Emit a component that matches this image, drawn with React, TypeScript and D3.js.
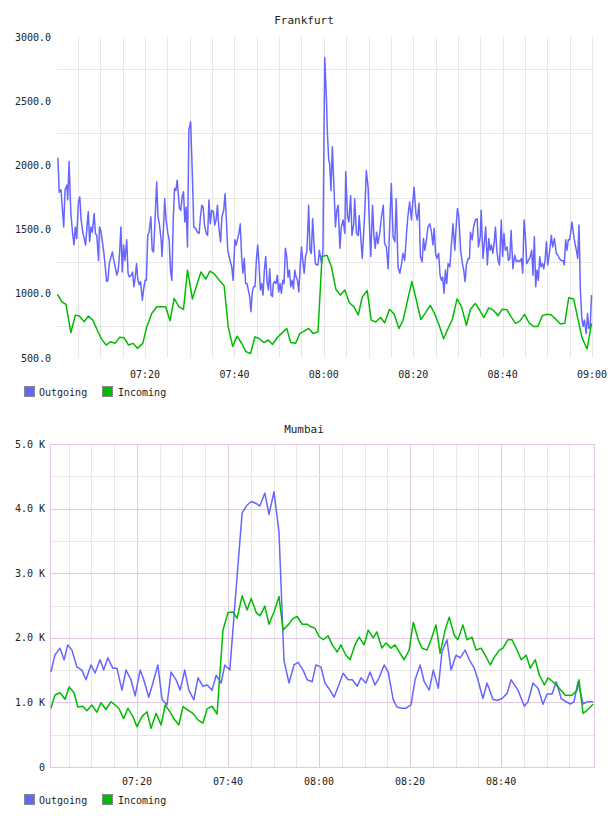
import React from "react";
import * as d3 from "d3";

// ---------- DATA (minutes after 07:00, value) ----------
const seriesNames = ["Outgoing", "Incoming"];
const seriesColors = ["#6666ff", "#00bb00"];

const frankfurtOutgoing: [number, number][] = [
[0.5,2060],[0.8,1790],[1.2,1810],[1.8,1520],[2.1,1810],[2.5,1845],[2.7,1730],[3.0,2030],[3.4,1625],[3.8,1470],[4.1,1380],[4.4,1520],[4.7,1430],[5.1,1715],[5.4,1755],[5.7,1575],[6.1,1470],[6.4,1430],[6.7,1380],[7.1,1560],[7.3,1640],[7.6,1405],[7.9,1520],[8.2,1480],[8.6,1625],[8.9,1470],[9.2,1455],[9.6,1260],[9.8,1520],[10.1,1495],[10.4,1420],[10.8,1315],[11.1,1210],[11.4,1095],[11.7,1105],[12.0,1235],[12.4,1290],[12.7,1325],[13.0,1260],[13.4,1195],[13.7,1145],[14.0,1185],[14.3,1315],[14.6,1520],[14.9,1170],[15.2,1380],[15.5,1260],[15.9,1420],[16.2,1160],[16.5,1130],[16.9,1145],[17.2,1170],[17.5,1055],[17.8,1130],[18.1,1235],[18.4,1105],[18.7,1070],[19.0,1095],[19.4,950],[19.7,1040],[20.0,1105],[20.3,1105],[20.6,1455],[20.9,1480],[21.3,1600],[21.6,1340],[21.9,1325],[22.2,1545],[22.6,1870],[22.9,1600],[23.2,1545],[23.6,1420],[23.8,1290],[24.1,1495],[24.4,1740],[24.7,1575],[25.1,1470],[25.4,1420],[25.7,1185],[26.0,1105],[26.3,1575],[26.6,1820],[26.9,1805],[27.2,1885],[27.4,1795],[27.7,1665],[28.0,1650],[28.3,1755],[28.6,1795],[28.9,1560],[29.2,1675],[29.5,1365],[29.8,2275],[30.2,2340],[30.6,1910],[30.9,1520],[31.3,1510],[31.7,1480],[32.1,1470],[32.4,1600],[32.7,1690],[33.0,1675],[33.3,1535],[33.7,1470],[34.0,1455],[34.3,1730],[34.6,1545],[34.9,1650],[35.3,1640],[35.6,1535],[35.9,1575],[36.2,1690],[36.5,1520],[36.9,1405],[37.2,1600],[37.6,1650],[37.9,1780],[38.2,1575],[38.5,1340],[38.8,1290],[39.1,1250],[39.4,1210],[39.7,1105],[40.1,1420],[40.4,1380],[40.7,1430],[41.0,1470],[41.3,1545],[41.6,1290],[41.9,1160],[42.2,1275],[42.5,1080],[42.8,1080],[43.1,1030],[43.4,980],[43.7,860],[44.0,1015],[44.3,1055],[44.6,1055],[44.9,1260],[45.2,1380],[45.5,1235],[45.8,1030],[46.1,1080],[46.4,990],[46.7,1185],[47.0,1290],[47.3,1095],[47.6,1030],[47.9,1195],[48.2,990],[48.5,980],[48.7,1080],[49.0,1095],[49.3,1080],[49.6,1145],[49.9,1015],[50.2,1080],[50.5,1005],[50.8,1105],[51.1,1080],[51.4,1355],[51.7,1290],[52.0,1130],[52.3,1185],[52.6,1055],[52.9,1105],[53.2,1040],[53.5,1185],[53.8,1130],[54.1,1105],[54.4,1015],[54.7,1210],[55.0,1365],[55.3,1260],[55.6,1160],[55.9,1290],[56.2,1330],[56.5,1575],[56.6,1690],[56.9,1340],[57.2,1315],[57.5,1585],[57.8,1390],[58.1,1235],[58.4,1225],[58.7,1225],[59.0,1340],[59.5,1235],[59.8,1340],[60.2,2840],[60.6,2505],[60.8,2250],[61.1,2040],[61.3,2015],[61.6,1805],[61.9,2145],[62.3,1805],[62.6,1520],[62.9,1650],[63.2,1690],[63.6,1355],[63.9,1520],[64.3,1575],[64.7,1470],[64.9,1950],[65.3,1600],[65.6,1560],[66.0,1765],[66.3,1455],[66.7,1545],[66.9,1740],[67.3,1470],[67.7,1455],[67.9,1610],[68.2,1470],[68.6,1275],[69.2,1665],[69.5,1960],[69.9,1830],[70.2,1545],[70.5,1290],[70.9,1690],[71.2,1455],[71.5,1355],[71.8,1480],[72.1,1390],[72.5,1470],[72.9,1600],[73.3,1690],[73.6,1390],[74.0,1365],[74.4,1195],[74.7,1495],[75.1,1860],[75.5,1445],[75.9,1405],[76.2,1740],[76.6,1210],[77.0,1160],[77.4,1235],[77.7,1315],[78.1,1260],[78.5,1470],[78.8,1600],[79.2,1715],[79.6,1575],[80.0,1755],[80.2,1830],[80.6,1625],[80.9,1575],[81.3,1705],[81.6,1290],[82.0,1250],[82.3,1430],[82.6,1340],[82.9,1405],[83.3,1520],[83.7,1545],[84.1,1480],[84.4,1380],[84.7,1510],[85.0,1315],[85.3,1275],[85.7,1315],[86.0,1145],[86.3,1105],[86.6,1130],[86.9,1005],[87.2,1185],[87.5,1080],[87.8,1235],[88.2,1210],[88.5,1365],[88.9,1545],[89.3,1340],[89.6,1520],[89.9,1665],[90.2,1600],[90.6,1340],[91.0,1235],[91.3,1185],[91.6,1095],[91.9,1225],[92.3,1275],[92.6,1275],[92.8,1480],[93.2,1420],[93.5,1520],[93.9,1575],[94.3,1585],[94.6,1365],[95.0,1445],[95.2,1650],[95.6,1275],[95.9,1390],[96.2,1520],[96.6,1225],[96.9,1430],[97.2,1340],[97.5,1380],[97.8,1315],[98.1,1390],[98.4,1520],[98.7,1340],[99.0,1260],[99.3,1225],[99.7,1575],[100.0,1290],[100.3,1470],[100.6,1340],[101.0,1365],[101.3,1260],[101.6,1275],[101.9,1495],[102.3,1195],[102.7,1300],[103.1,1250],[103.4,1260],[103.8,1250],[104.2,1275],[104.5,1160],[104.8,1575],[105.1,1445],[105.4,1235],[105.8,1260],[106.2,1290],[106.5,1340],[106.8,1145],[107.1,1445],[107.4,1055],[107.7,1185],[108.0,1105],[108.3,1290],[108.6,1210],[108.9,1235],[109.2,1195],[109.5,1260],[109.8,1405],[110.1,1225],[110.5,1325],[110.9,1455],[111.2,1365],[111.6,1430],[112.0,1315],[112.4,1300],[112.7,1275],[113.1,1260],[113.5,1260],[113.8,1225],[114.1,1420],[114.4,1340],[114.7,1420],[115.0,1420],[115.3,1495],[115.5,1560],[115.9,1455],[116.2,1390],[116.5,1340],[116.8,1275],[117.1,1535],[117.4,1030],[117.7,820],[118.0,745],[118.3,795],[118.7,690],[119.0,845],[119.3,730],[119.6,745],[119.9,990]
];

const frankfurtIncoming: [number, number][] = [
[0.4,995],[1.4,938],[2.3,917],[3.4,697],[4.4,834],[5.3,827],[6.4,783],[7.3,827],[8.3,795],[9.3,718],[10.3,645],[11.3,601],[12.3,627],[13.3,614],[14.3,661],[15.3,658],[16.3,601],[17.3,614],[18.3,575],[19.5,614],[20.4,744],[21.5,847],[22.6,899],[23.6,899],[24.6,899],[25.6,790],[26.5,964],[27.6,899],[28.6,878],[29.5,1184],[30.6,960],[32.5,1170],[33.6,1115],[34.5,1176],[35.5,1155],[36.6,1105],[37.7,1060],[38.6,745],[39.6,590],[40.6,670],[41.6,615],[42.6,550],[43.6,535],[44.6,665],[45.6,650],[46.6,620],[47.6,640],[48.5,605],[49.6,660],[50.5,690],[51.7,730],[52.6,620],[53.7,615],[54.6,690],[55.6,710],[56.6,730],[57.6,690],[58.7,705],[59.6,1290],[60.7,1300],[61.7,1210],[62.7,1035],[63.7,990],[64.7,1030],[65.7,930],[66.7,900],[67.7,835],[68.6,975],[69.7,1025],[70.6,795],[71.6,780],[72.7,815],[73.6,775],[74.7,880],[75.7,845],[76.8,730],[77.7,790],[78.7,945],[79.7,1095],[80.7,950],[81.7,800],[82.7,850],[83.8,910],[84.8,845],[85.8,755],[86.8,650],[87.8,730],[88.8,805],[89.8,960],[90.8,900],[91.9,755],[92.8,880],[93.9,925],[94.9,870],[95.8,815],[96.9,890],[97.8,875],[99.0,830],[99.9,880],[101.0,875],[101.9,820],[102.9,770],[103.8,785],[104.9,840],[105.9,775],[106.9,745],[107.9,745],[108.9,830],[109.9,840],[110.9,835],[111.8,805],[112.9,765],[113.9,770],[114.8,970],[115.9,960],[116.8,810],[117.8,655],[118.9,570],[119.9,770]
];

const mumbaiOutgoing: [number, number][] = [
[1.1,1470],[2.0,1735],[3.1,1840],[4.0,1660],[4.8,1890],[5.7,1810],[6.8,1550],[7.9,1500],[8.8,1350],[9.9,1580],[10.8,1455],[11.9,1660],[12.7,1500],[13.6,1690],[14.7,1530],[15.6,1530],[16.7,1190],[17.6,1500],[18.7,1350],[19.6,1100],[20.7,1500],[21.5,1350],[22.6,1080],[23.5,1300],[24.6,1580],[25.5,1050],[26.6,960],[27.5,1470],[28.6,1350],[29.5,1190],[30.5,1500],[31.4,1190],[32.5,1040],[33.4,1380],[34.5,1250],[35.4,1270],[36.5,1190],[37.4,1420],[38.5,1300],[39.3,1580],[40.4,1500],[42.0,2950],[43.1,3930],[44.0,4040],[45.1,4110],[46.2,4080],[47.0,4040],[48.1,4240],[49.0,3910],[50.1,4260],[51.2,3640],[52.3,1650],[53.4,1300],[54.5,1580],[55.4,1620],[56.5,1500],[57.4,1350],[58.5,1320],[59.3,1580],[60.4,1550],[61.3,1300],[62.4,1190],[63.3,1080],[64.4,1280],[65.3,1450],[66.4,1350],[67.3,1350],[68.4,1250],[69.2,1380],[70.3,1300],[71.2,1470],[72.3,1270],[73.2,1380],[74.3,1580],[75.2,1470],[76.3,1040],[77.1,930],[78.2,910],[79.1,910],[80.2,960],[81.1,1350],[82.2,1580],[83.1,1320],[84.2,1190],[85.1,1500],[86.2,1220],[87.0,1780],[88.1,1970],[89.0,1500],[90.1,1730],[91.0,1690],[92.1,1810],[93.0,1660],[94.1,1530],[94.9,1350],[96.0,1060],[96.9,1300],[98.2,1050],[99.1,1030],[100.2,1060],[101.3,1140],[102.2,1350],[103.7,1190],[105.1,940],[105.9,1010],[107.0,1300],[108.1,1220],[109.2,970],[110.1,1130],[111.2,1130],[112.1,1320],[113.2,1060],[114.3,1010],[115.2,975],[116.0,1010],[116.9,1320],[118.0,975],[119.0,1010],[120.2,1010]
];

const mumbaiIncoming: [number, number][] = [
[1.1,910],[2.0,1115],[3.1,1150],[4.2,1050],[5.1,1240],[6.2,1150],[7.0,930],[8.1,940],[9.0,870],[10.1,960],[11.2,850],[12.1,995],[13.2,890],[14.3,1010],[15.2,960],[16.0,910],[17.1,750],[18.0,910],[19.1,780],[20.0,625],[21.1,780],[22.2,855],[23.1,600],[24.2,830],[25.3,650],[26.2,960],[27.3,850],[28.1,750],[29.2,650],[30.1,935],[31.2,880],[32.3,830],[33.4,730],[34.5,680],[35.4,900],[36.5,940],[37.6,820],[38.9,2120],[40.0,2390],[41.1,2400],[42.0,2300],[43.1,2650],[44.2,2430],[45.1,2610],[46.2,2390],[47.0,2340],[48.1,2490],[49.0,2210],[50.1,2400],[51.2,2640],[52.1,2120],[53.2,2200],[54.3,2300],[55.2,2330],[56.3,2210],[57.4,2210],[58.2,2170],[59.1,2150],[60.0,2020],[60.9,1970],[62.0,2030],[62.9,1890],[64.0,1780],[64.8,1890],[65.9,1730],[66.8,1660],[67.9,1890],[68.8,2010],[69.9,1890],[70.8,2120],[71.9,2000],[72.7,2090],[73.8,1840],[74.7,1920],[75.8,1840],[76.7,1890],[77.8,1760],[78.7,1660],[79.8,1810],[80.7,2240],[81.8,1970],[82.6,1840],[83.7,1810],[84.6,1970],[85.7,2200],[86.6,1760],[87.7,2120],[88.6,2320],[89.7,2040],[90.5,1970],[91.6,2200],[92.5,1970],[93.6,2010],[94.5,1810],[95.6,1840],[96.5,1730],[97.6,1580],[98.5,1700],[99.6,1810],[100.4,1840],[101.5,1970],[102.4,1970],[103.5,1810],[104.4,1660],[105.5,1730],[106.4,1530],[107.5,1660],[108.4,1420],[109.5,1270],[110.3,1380],[111.4,1320],[112.5,1240],[114.1,1110],[115.6,1110],[116.7,1190],[117.1,1350],[118.0,830],[119.1,890],[120.2,975]
];

const frankfurtYTicks = [500, 1000, 1500, 2000, 2500, 3000];
const mumbaiYTicks = [0, 1000, 2000, 3000, 4000, 5000];
const xLabelTimesFrankfurt = ["07:20", "07:40", "08:00", "08:20", "08:40", "09:00"];
const xLabelTimesMumbai = ["07:20", "07:40", "08:00", "08:20", "08:40"];

// ---------- helpers ----------
const BASE = new Date(2020, 0, 1, 7, 0, 0).getTime();
const toDate = (m: number) => new Date(BASE + m * 60000);
const parseHM = d3.timeParse("%H:%M");
const hmToDate = (s: string) => {
  const p = parseHM(s)!;
  return new Date(2020, 0, 1, p.getHours(), p.getMinutes());
};
const fmt = d3.timeFormat("%H:%M");
const FONT = "'DejaVu Sans Mono', 'Liberation Mono', monospace";

type PanelProps = {
  title: string;
  titleY: number;
  x0: number; x1: number; y0: number; y1: number;
  tDomain: [number, number];
  yDomain: [number, number];
  yTicks: number[];
  yFormat: (v: number) => string;
  labelRight: number;
  xLabels: string[];
  xLabelY: number;
  legendY: number;
  mumbaiStyle: boolean;
  outgoing: [number, number][];
  incoming: [number, number][];
};

function Panel(p: PanelProps) {
  const x = d3.scaleTime().domain([toDate(p.tDomain[0]), toDate(p.tDomain[1])]).range([p.x0, p.x1]);
  const y = d3.scaleLinear().domain(p.yDomain).range([p.y1, p.y0]);
  let minuteTicks = d3.timeMinute.every(5)!.range(toDate(p.tDomain[0]), new Date(toDate(p.tDomain[1]).getTime() + 1));
  if (p.mumbaiStyle) minuteTicks = minuteTicks.filter((t) => Math.abs(x(t) - p.x1) > 3);
  const step = p.yTicks[1] - p.yTicks[0];
  const halfTicks = p.yTicks.slice(0, -1).map((v) => v + step / 2);
  const line = d3.line<[number, number]>().x((d) => x(toDate(d[0]))).y((d) => y(d[1]));
  const minorColor = "#e6e6e6";
  const majorColor = "#e2c9e2";
  const majorSet = new Set(p.xLabels);
  return (
    <g>
      <text x={304} y={p.titleY} textAnchor="middle" fontFamily={FONT} fontSize={11} fill="#222">{p.title}</text>
      {/* vertical grid */}
      {minuteTicks.map((t, i) => {
        const major = p.mumbaiStyle && majorSet.has(fmt(t));
        return <line key={"v" + i} x1={Math.round(x(t)) + 0.5} x2={Math.round(x(t)) + 0.5} y1={p.y0} y2={p.y1}
          stroke={major ? majorColor : minorColor} strokeWidth={1} />;
      })}
      {/* horizontal grid */}
      {halfTicks.map((v, i) => (
        <line key={"h" + i} x1={p.x0} x2={p.x1 + 1} y1={Math.round(y(v)) + 0.5} y2={Math.round(y(v)) + 0.5} stroke={minorColor} strokeWidth={1} />
      ))}
      {p.mumbaiStyle && p.yTicks.slice(1, -1).map((v, i) => (
        <line key={"hm" + i} x1={p.x0} x2={p.x1} y1={Math.round(y(v)) + 0.5} y2={Math.round(y(v)) + 0.5} stroke={majorColor} strokeWidth={1} />
      ))}
      {p.mumbaiStyle && (
        <rect x={p.x0 + 0.5} y={p.y0 + 0.5} width={p.x1 - p.x0} height={p.y1 - p.y0} fill="none" stroke={majorColor} strokeWidth={1} />
      )}
      {/* series */}
      <path d={line(p.outgoing) || ""} fill="none" stroke={seriesColors[0]} strokeWidth={1.5} strokeLinejoin="round" />
      <path d={line(p.incoming) || ""} fill="none" stroke={seriesColors[1]} strokeWidth={1.5} strokeLinejoin="round" />
      {/* y labels */}
      {p.yTicks.map((v, i) => (
        <text key={"yl" + i} x={p.labelRight} y={y(v)} dy="0.35em" textAnchor="end" fontFamily={FONT} fontSize={10} fill="#222">{p.yFormat(v)}</text>
      ))}
      {/* x labels */}
      {p.xLabels.map((s, i) => (
        <text key={"xl" + i} x={x(hmToDate(s))} y={p.xLabelY} dy="0.35em" textAnchor="middle" fontFamily={FONT} fontSize={10} fill="#222">{s}</text>
      ))}
      {/* legend */}
      {seriesNames.map((n, i) => (
        <g key={"lg" + i}>
          <rect x={24.5 + i * 78} y={p.legendY - 5.5} width={10} height={10} fill={seriesColors[i]} stroke="#8a8a8a" strokeWidth={1} />
          <text x={39 + i * 79} y={p.legendY} dy="0.35em" fontFamily={FONT} fontSize={10} fill="#222">{n}</text>
        </g>
      ))}
    </g>
  );
}

export default function App() {
  return (
    <svg width={608} height={816} style={{ position: "absolute", left: 0, top: 0, background: "#fff" }}>
      <rect width={608} height={816} fill="#fff" />
      <Panel
        title="Frankfurt" titleY={24}
        x0={57} x1={592} y0={37} y1={358}
        tDomain={[0.3, 120]} yDomain={[500, 3000]}
        yTicks={frankfurtYTicks} yFormat={(v) => v.toFixed(1)} labelRight={51}
        xLabels={xLabelTimesFrankfurt} xLabelY={374} legendY={392}
        mumbaiStyle={false}
        outgoing={frankfurtOutgoing} incoming={frankfurtIncoming}
      />
      <Panel
        title="Mumbai" titleY={433}
        x0={50} x1={594} y0={444} y1={767}
        tDomain={[0.9, 120.4]} yDomain={[0, 5000]}
        yTicks={mumbaiYTicks} yFormat={(v) => (v === 0 ? "0" : (v / 1000).toFixed(1) + " K")} labelRight={45}
        xLabels={xLabelTimesMumbai} xLabelY={781} legendY={800}
        mumbaiStyle={true}
        outgoing={mumbaiOutgoing} incoming={mumbaiIncoming}
      />
    </svg>
  );
}
